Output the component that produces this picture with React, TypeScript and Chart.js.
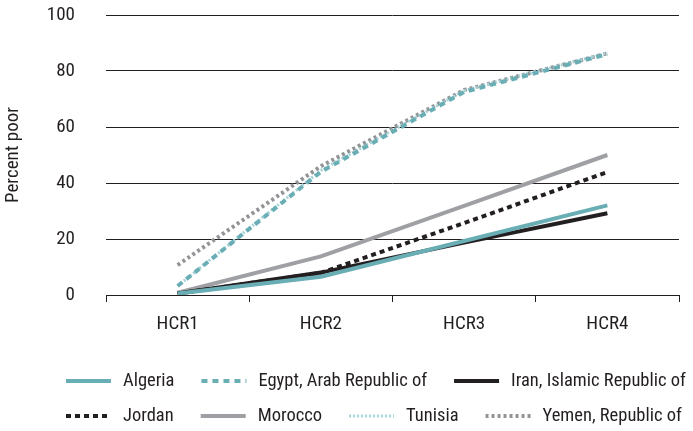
import React, { useEffect, useRef } from 'react';
import { Chart, registerables } from 'chart.js';

Chart.register(...registerables);

const categories = ['HCR1', 'HCR2', 'HCR3', 'HCR4'];
const seriesNames = [
  'Algeria',
  'Egypt, Arab Republic of',
  'Iran, Islamic Republic of',
  'Jordan',
  'Morocco',
  'Tunisia',
  'Yemen, Republic of',
];
const algeria = [0.5, 6.5, 19.3, 32];
const egypt = [3.2, 44, 72.5, 86];
const iran = [0.5, 8, 18.7, 29.2];
const jordan = [0.5, 7.9, 25.7, 43.9];
const morocco = [0.8, 13.8, 31.8, 50];
const tunisia = [3.2, 44.5, 73, 86.5];
const yemen = [10.7, 46, 73.2, 86.3];
const yTickMin = 0;
const yTickMax = 100;
const yTickStep = 20;
const yAxisTitle = 'Percent poor';
const legendRows = [[0, 1, 2], [3, 4, 5, 6]];

const FONT = '"Roboto Condensed", "DejaVu Sans Condensed", sans-serif';
const FONT_SIZE = 19;
const LEG_FONT_SIZE = 18.5;
const TEXT = '#231f20';
const TEAL = '#6aaeb5';
const BLACK = '#231f20';
const GRAY = '#9fa0a3';
const LIGHT_TEAL = '#a5d3d7';
const DARK_GRAY = '#929497';

const styles = [
  { color: TEAL, width: 4, dash: [] as number[] },
  { color: TEAL, width: 4, dash: [6, 5] },
  { color: BLACK, width: 4, dash: [] as number[] },
  { color: BLACK, width: 4, dash: [5, 4] },
  { color: GRAY, width: 4, dash: [] as number[] },
  { color: LIGHT_TEAL, width: 3, dash: [2, 2] },
  { color: DARK_GRAY, width: 4, dash: [3, 3] },
];
const values = [algeria, egypt, iran, jordan, morocco, tunisia, yemen];

const LEG_X = 66;
const LEG_Y = [381, 416];
const LEG_LINE = 45;
const LEG_TEXT_GAP = 12;
const LEG_GAP = 27;

const legendPlugin = {
  id: 'customLegend',
  afterDraw(chart: any) {
    const ctx = chart.ctx as CanvasRenderingContext2D;
    ctx.save();
    ctx.font = `${LEG_FONT_SIZE}px ${FONT}`;
    ctx.textBaseline = 'middle';
    ctx.textAlign = 'left';
    legendRows.forEach((row, r) => {
      let x = LEG_X;
      const y = LEG_Y[r];
      row.forEach((i) => {
        const ds = chart.data.datasets[i];
        ctx.beginPath();
        ctx.setLineDash(ds.borderDash || []);
        ctx.lineWidth = ds.borderWidth;
        ctx.strokeStyle = ds.borderColor;
        ctx.lineCap = 'butt';
        ctx.moveTo(x, y);
        ctx.lineTo(x + LEG_LINE, y);
        ctx.stroke();
        ctx.setLineDash([]);
        ctx.fillStyle = TEXT;
        const tx = x + LEG_LINE + LEG_TEXT_GAP;
        ctx.fillText(ds.label, tx, y);
        x = tx + ctx.measureText(ds.label).width + LEG_GAP;
      });
    });
    ctx.restore();
  },
};

export default function App() {
  const ref = useRef<HTMLCanvasElement>(null);
  useEffect(() => {
    Chart.defaults.font.family = FONT;
    Chart.defaults.font.size = FONT_SIZE;
    Chart.defaults.color = TEXT;
    const chart = new Chart(ref.current!, {
      type: 'line',
      data: {
        labels: categories,
        datasets: seriesNames.map((name, i) => ({
          label: name,
          data: values[i],
          borderColor: styles[i].color,
          backgroundColor: styles[i].color,
          borderWidth: styles[i].width,
          borderDash: styles[i].dash,
          borderCapStyle: 'butt',
          borderJoinStyle: 'round',
          pointRadius: 0,
          pointHoverRadius: 0,
          tension: 0,
          fill: false,
        })),
      },
      options: {
        responsive: false,
        animation: false,
        devicePixelRatio: 1,
        layout: { padding: { left: 0, right: 14, top: 15, bottom: 100 } },
        plugins: {
          legend: { display: false },
          tooltip: { enabled: false },
        },
        scales: {
          x: {
            type: 'category',
            offset: true,
            grid: {
              offset: true,
              drawOnChartArea: false,
              drawTicks: true,
              tickLength: 7,
              color: BLACK,
              lineWidth: 1,
            },
            border: { display: true, color: BLACK, width: 1 },
            ticks: { padding: 11, color: TEXT, font: { size: FONT_SIZE } },
            afterFit: (s: any) => {
              s.height = 36;
            },
          },
          y: {
            min: yTickMin,
            max: yTickMax,
            ticks: { stepSize: yTickStep, padding: 3, color: TEXT, font: { size: FONT_SIZE } },
            grid: {
              color: BLACK,
              lineWidth: 1,
              drawTicks: true,
              tickLength: 28,
              tickColor: 'rgba(0,0,0,0)',
            },
            border: { display: false },
            title: {
              display: true,
              text: yAxisTitle,
              color: TEXT,
              font: { size: FONT_SIZE },
              padding: { top: 2, bottom: 0 },
            },
            afterFit: (s: any) => {
              s.width = 106;
            },
          },
        },
      },
      plugins: [legendPlugin],
    });
    return () => chart.destroy();
  }, []);
  return (
    <div style={{ position: 'absolute', left: 0, top: 0, width: 693, height: 431, background: '#fff' }}>
      <canvas ref={ref} width={693} height={431} style={{ display: 'block' }} />
    </div>
  );
}
